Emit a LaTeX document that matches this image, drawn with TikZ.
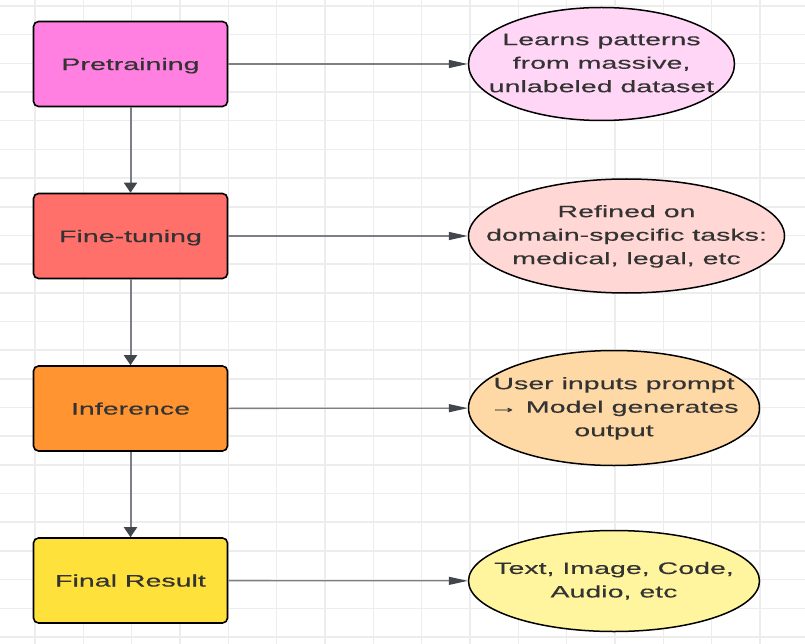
\documentclass[tikz,border=0pt]{standalone}
\usepackage{fontspec}
\setmainfont{Liberation Sans}[FakeStretch=1.72,FakeBold=0.25]
\newfontfamily\caixafonte{Liberation Sans}[FakeStretch=1.72,FakeBold=0.6]
\usetikzlibrary{shapes.geometric,arrows.meta}
\definecolor{grade}{HTML}{EDEDED}
\definecolor{seta}{HTML}{7C7F85}
\definecolor{pontaseta}{HTML}{41454C}
\definecolor{texto}{HTML}{333333}
\definecolor{rosa}{HTML}{FF80E0}
\definecolor{rosaclaro}{HTML}{FFD6F5}
\definecolor{salmao}{HTML}{FF706B}
\definecolor{salmaoclaro}{HTML}{FFD8D6}
\definecolor{laranja}{HTML}{FF9431}
\definecolor{laranjaclaro}{HTML}{FFD9A5}
\definecolor{amarelo}{HTML}{FFE13C}
\definecolor{amareloclaro}{HTML}{FFF59E}
% texto de largura nula, para a elipse ficar com o tamanho pedido
\newcommand{\textonota}[1]{\makebox[0pt]{\begin{tabular}{@{}c@{}}#1\end{tabular}}}
\tikzset{
  etapa/.style={draw=black,line width=1.6pt,rounded corners=5pt,minimum width=194pt,
    minimum height=85pt,inner sep=0pt,text depth=0pt,text=texto,
    font=\caixafonte\fontsize{16.6}{23.5}\selectfont},
  nota/.style={ellipse,draw=black,line width=1.5pt,inner sep=0pt,text=texto,
    font=\fontsize{16.6}{23.5}\selectfont},
  descer/.style={seta,line width=2pt,-{Triangle[length=10pt,width=13pt,color=pontaseta]}},
  ligar/.style={seta,line width=1.3pt,-{Triangle[length=19pt,width=8pt,color=pontaseta]}}
}

\begin{document}
\begin{tikzpicture}[x=1pt,y=-1pt]
  \useasboundingbox (0,0) rectangle (805,644);
  \fill[white] (0,0) rectangle (805,644);
  % grade de fundo
  \foreach \gx in {0,...,16}
    \draw[grade,line width=1.5pt] ({35+48.33*\gx},0) -- ++(0,644);
  \foreach \gy in {0,...,22}
    \draw[grade,line width=1.5pt] (0,{6+28.68*\gy}) -- ++(805,0);

  % etapas
  \node[etapa,fill=rosa] (pretreino) at (130.5,64) {Pretraining};
  \node[etapa,fill=salmao] (ajuste) at (130.5,236) {Fine-tuning};
  \node[etapa,fill=laranja] (inferencia) at (130.5,408.5) {Inference};
  \node[etapa,fill=amarelo] (resultado) at (130.5,580.5) {Final Result};

  % notas
  \node[nota,fill=rosaclaro,minimum width=266pt,minimum height=113pt] (notapre) at (601.5,64)
    {\textonota{Learns patterns\\from massive,\\unlabeled dataset}};
  \node[nota,fill=salmaoclaro,minimum width=316pt,minimum height=114pt] (notaajuste) at (626.5,236)
    {\textonota{Refined on\\domain-specific tasks:\\medical, legal, etc}};
  \node[nota,fill=laranjaclaro,minimum width=291pt,minimum height=115pt] (notainf) at (614,408)
    {\textonota{User inputs prompt\\→ Model generates\\output}};
  \node[nota,fill=amareloclaro,minimum width=291pt,minimum height=101pt] (notares) at (614,581)
    {\textonota{Text, Image, Code,\\Audio, etc}};

  % setas
  \draw[descer] (pretreino) -- (ajuste);
  \draw[descer] (ajuste) -- (inferencia);
  \draw[descer] (inferencia) -- (resultado);
  \draw[ligar] (pretreino) -- (notapre);
  \draw[ligar] (ajuste) -- (notaajuste);
  \draw[ligar] (inferencia) -- (notainf);
  \draw[ligar] (resultado) -- (notares);
\end{tikzpicture}
\end{document}
